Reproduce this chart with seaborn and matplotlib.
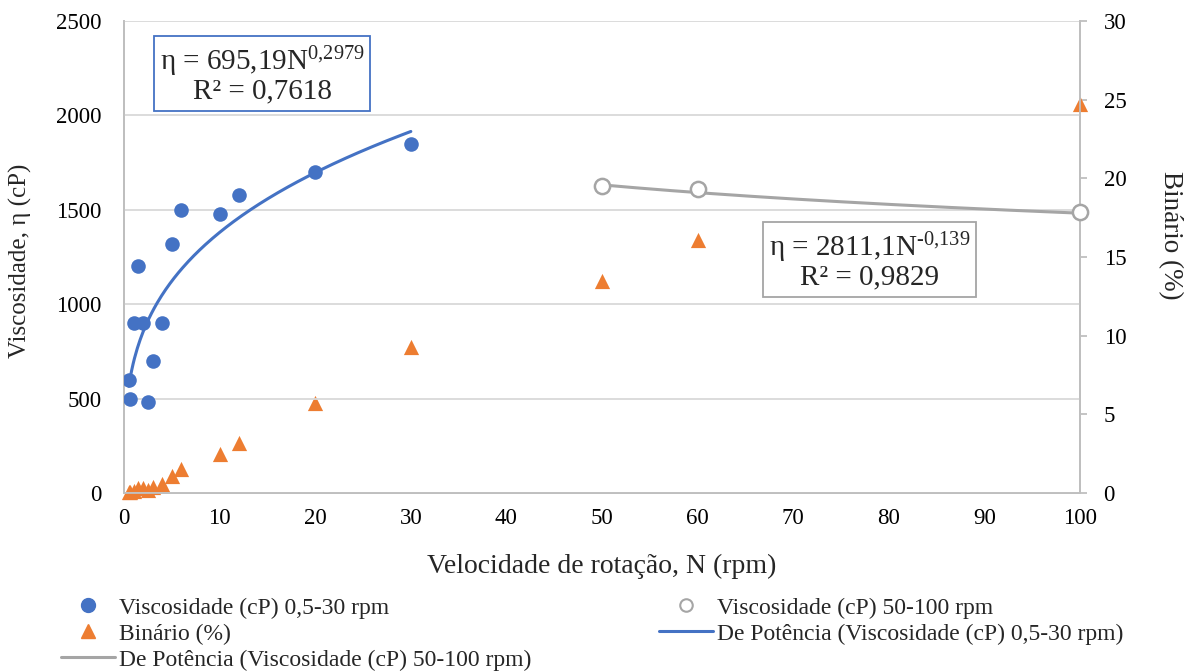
import numpy as np
import pandas as pd
import matplotlib
matplotlib.use("Agg")
import matplotlib.pyplot as plt
from matplotlib.lines import Line2D
import seaborn as sns

# Rotational speed (rpm) and measured viscosity (cP), low-speed range
speed_low = [0.5, 0.6, 1, 1.5, 2, 2.5, 3, 4, 5, 6, 10, 12, 20, 30]
visc_low = [600, 500, 900, 1200, 900, 480, 700, 900, 1320, 1500, 1480, 1580, 1700, 1850]

# High-speed range
speed_high = [50, 60, 100]
visc_high = [1626, 1610, 1488]

# Torque (%) for all speeds
speed_all = speed_low + speed_high
torque = [0.05, 0.05, 0.15, 0.3, 0.3, 0.2, 0.35, 0.6, 1.1, 1.5, 2.5, 3.2, 5.7, 9.3,
          13.5, 16.1, 24.7]

# Power-law fits: eta = a * N^b
fit_low = {"a": 695.19, "b": 0.2979, "r2": "0,7618", "a_txt": "695,19", "b_txt": "0{,}2979"}
fit_high = {"a": 2811.1, "b": -0.139, "r2": "0,9829", "a_txt": "2811,1", "b_txt": "\u2010" + "0{,}139"}

BLUE = "#4472C4"
ORANGE = "#ED7D31"
GRAY = "#A5A5A5"
GRID = "#D9D9D9"

sns.set_theme(style="white")
plt.rcParams["font.family"] = ["Liberation Serif", "DejaVu Serif"]
plt.rcParams["mathtext.fontset"] = "custom"
plt.rcParams["mathtext.rm"] = "Liberation Serif"
plt.rcParams["mathtext.it"] = "Liberation Serif:italic"
plt.rcParams["mathtext.bf"] = "Liberation Serif:bold"

FS_TICK = 16.5
FS_LEG = 17
FS_EQ = 21

W, H = 1194, 671
fig = plt.figure(figsize=(W / 100, H / 100), dpi=100)
ax = fig.add_axes([0.1039, 0.2653, 0.9045 - 0.1039, 0.9687 - 0.2653])
ax2 = ax.twinx()

# Fitted curves
n_low = np.linspace(min(speed_low), max(speed_low), 200)
n_high = np.linspace(min(speed_high), max(speed_high), 200)
df_fit_low = pd.DataFrame({"N": n_low, "eta": fit_low["a"] * n_low ** fit_low["b"]})
df_fit_high = pd.DataFrame({"N": n_high, "eta": fit_high["a"] * n_high ** fit_high["b"]})

sns.lineplot(data=df_fit_high, x="N", y="eta", ax=ax, color=GRAY, linewidth=2.2, zorder=3)
sns.lineplot(data=df_fit_low, x="N", y="eta", ax=ax, color=BLUE, linewidth=2.2, zorder=3)

df_low = pd.DataFrame({"N": speed_low, "eta": visc_low})
df_high = pd.DataFrame({"N": speed_high, "eta": visc_high})
sns.scatterplot(data=df_low, x="N", y="eta", ax=ax, color=BLUE, s=110,
                edgecolor=BLUE, linewidth=0, zorder=4)
sns.scatterplot(data=df_high, x="N", y="eta", ax=ax, marker="o", s=120,
                facecolor="white", edgecolor=GRAY, linewidth=1.8, zorder=4, clip_on=False)

df_t = pd.DataFrame({"N": speed_all, "t": torque})
sns.scatterplot(data=df_t, x="N", y="t", ax=ax2, marker="^", color=ORANGE, s=120,
                linewidth=0, zorder=4, clip_on=False)

# Axes styling
ax.set_xlim(0, 100)
ax.set_ylim(0, 2500)
ax2.set_ylim(0, 30)
ax.set_xticks(range(0, 101, 10))
ax.set_yticks(range(0, 2501, 500))
ax2.set_yticks(range(0, 31, 5))
ax.yaxis.grid(True, color=GRID, linewidth=1.3)
ax.xaxis.grid(False)
ax2.grid(False)
ax.set_axisbelow(True)
ax.set_zorder(ax2.get_zorder() + 1)
ax.patch.set_visible(False)

for a in (ax, ax2):
    a.spines["top"].set_visible(False)
    for side in ("left", "right", "bottom"):
        a.spines[side].set_color("#BFBFBF")
        a.spines[side].set_linewidth(1.3)

ax.tick_params(axis="x", length=0, pad=11, labelsize=FS_TICK, colors="black")
ax.tick_params(axis="y", length=0, pad=16, labelsize=FS_TICK, colors="black")
ax2.tick_params(axis="y", length=5, width=1.3, color="#BFBFBF", pad=12,
                labelsize=FS_TICK, labelcolor="black", direction="out")

ax.set_xlabel("Velocidade de rotação, N (rpm)", fontsize=20, labelpad=17.5)
ax.set_ylabel("Viscosidade, η (cP)", fontsize=18, va="center")
ax2.set_ylabel("Binário (%)", fontsize=19.5, rotation=270, va="center")

# Place axis titles by pixel centre within the figure
ax_x0, ax_y0 = 124, 493
ax_w, ax_h = 956, 472
ax.yaxis.set_label_coords((20 - ax_x0) / ax_w, (ax_y0 - 261) / ax_h)
ax2.yaxis.set_label_coords((1170 - ax_x0) / ax_w, (ax_y0 - 235) / ax_h)

# Equation boxes
ax.text(0.1444, 0.8867,
        f"η = {fit_low['a_txt']}N$^{{{fit_low['b_txt']}}}$\nR² = {fit_low['r2']}",
        transform=ax.transAxes, ha="center", va="center", fontsize=FS_EQ,
        linespacing=1.0, zorder=6,
        bbox=dict(boxstyle="square,pad=0.2", facecolor="white", edgecolor=BLUE, linewidth=1.3))
ax.text(0.7798, 0.4926,
        f"η = {fit_high['a_txt']}N$^{{{fit_high['b_txt']}}}$\nR² = {fit_high['r2']}",
        transform=ax.transAxes, ha="center", va="center", fontsize=FS_EQ,
        linespacing=1.0, zorder=6,
        bbox=dict(boxstyle="square,pad=0.2", facecolor="white", edgecolor=GRAY, linewidth=1.3))

# Legend
handles = [
    Line2D([], [], marker="o", linestyle="none", markersize=10, color=BLUE),
    Line2D([], [], marker="^", linestyle="none", markersize=10, color=ORANGE),
    Line2D([], [], color=GRAY, linewidth=2.2),
    Line2D([], [], marker="o", linestyle="none", markersize=9, markerfacecolor="white",
           markeredgecolor=GRAY, markeredgewidth=1.5),
    Line2D([], [], color=BLUE, linewidth=2.2),
]
labels = [
    "Viscosidade (cP) 0,5-30 rpm",
    "Binário (%)",
    "De Potência (Viscosidade (cP) 50-100 rpm)",
    "Viscosidade (cP) 50-100 rpm",
    "De Potência (Viscosidade (cP) 0,5-30 rpm)",
]
fig.legend(handles, labels, ncol=2, loc="upper left",
           bbox_to_anchor=(61 / W, 1 - 597 / H),
           frameon=False, fontsize=FS_LEG, handlelength=2.3, handletextpad=0.15,
           labelspacing=0.19, columnspacing=5.4, borderaxespad=0, borderpad=0,
           bbox_transform=fig.transFigure)

fig.savefig("out.png", dpi=100)
